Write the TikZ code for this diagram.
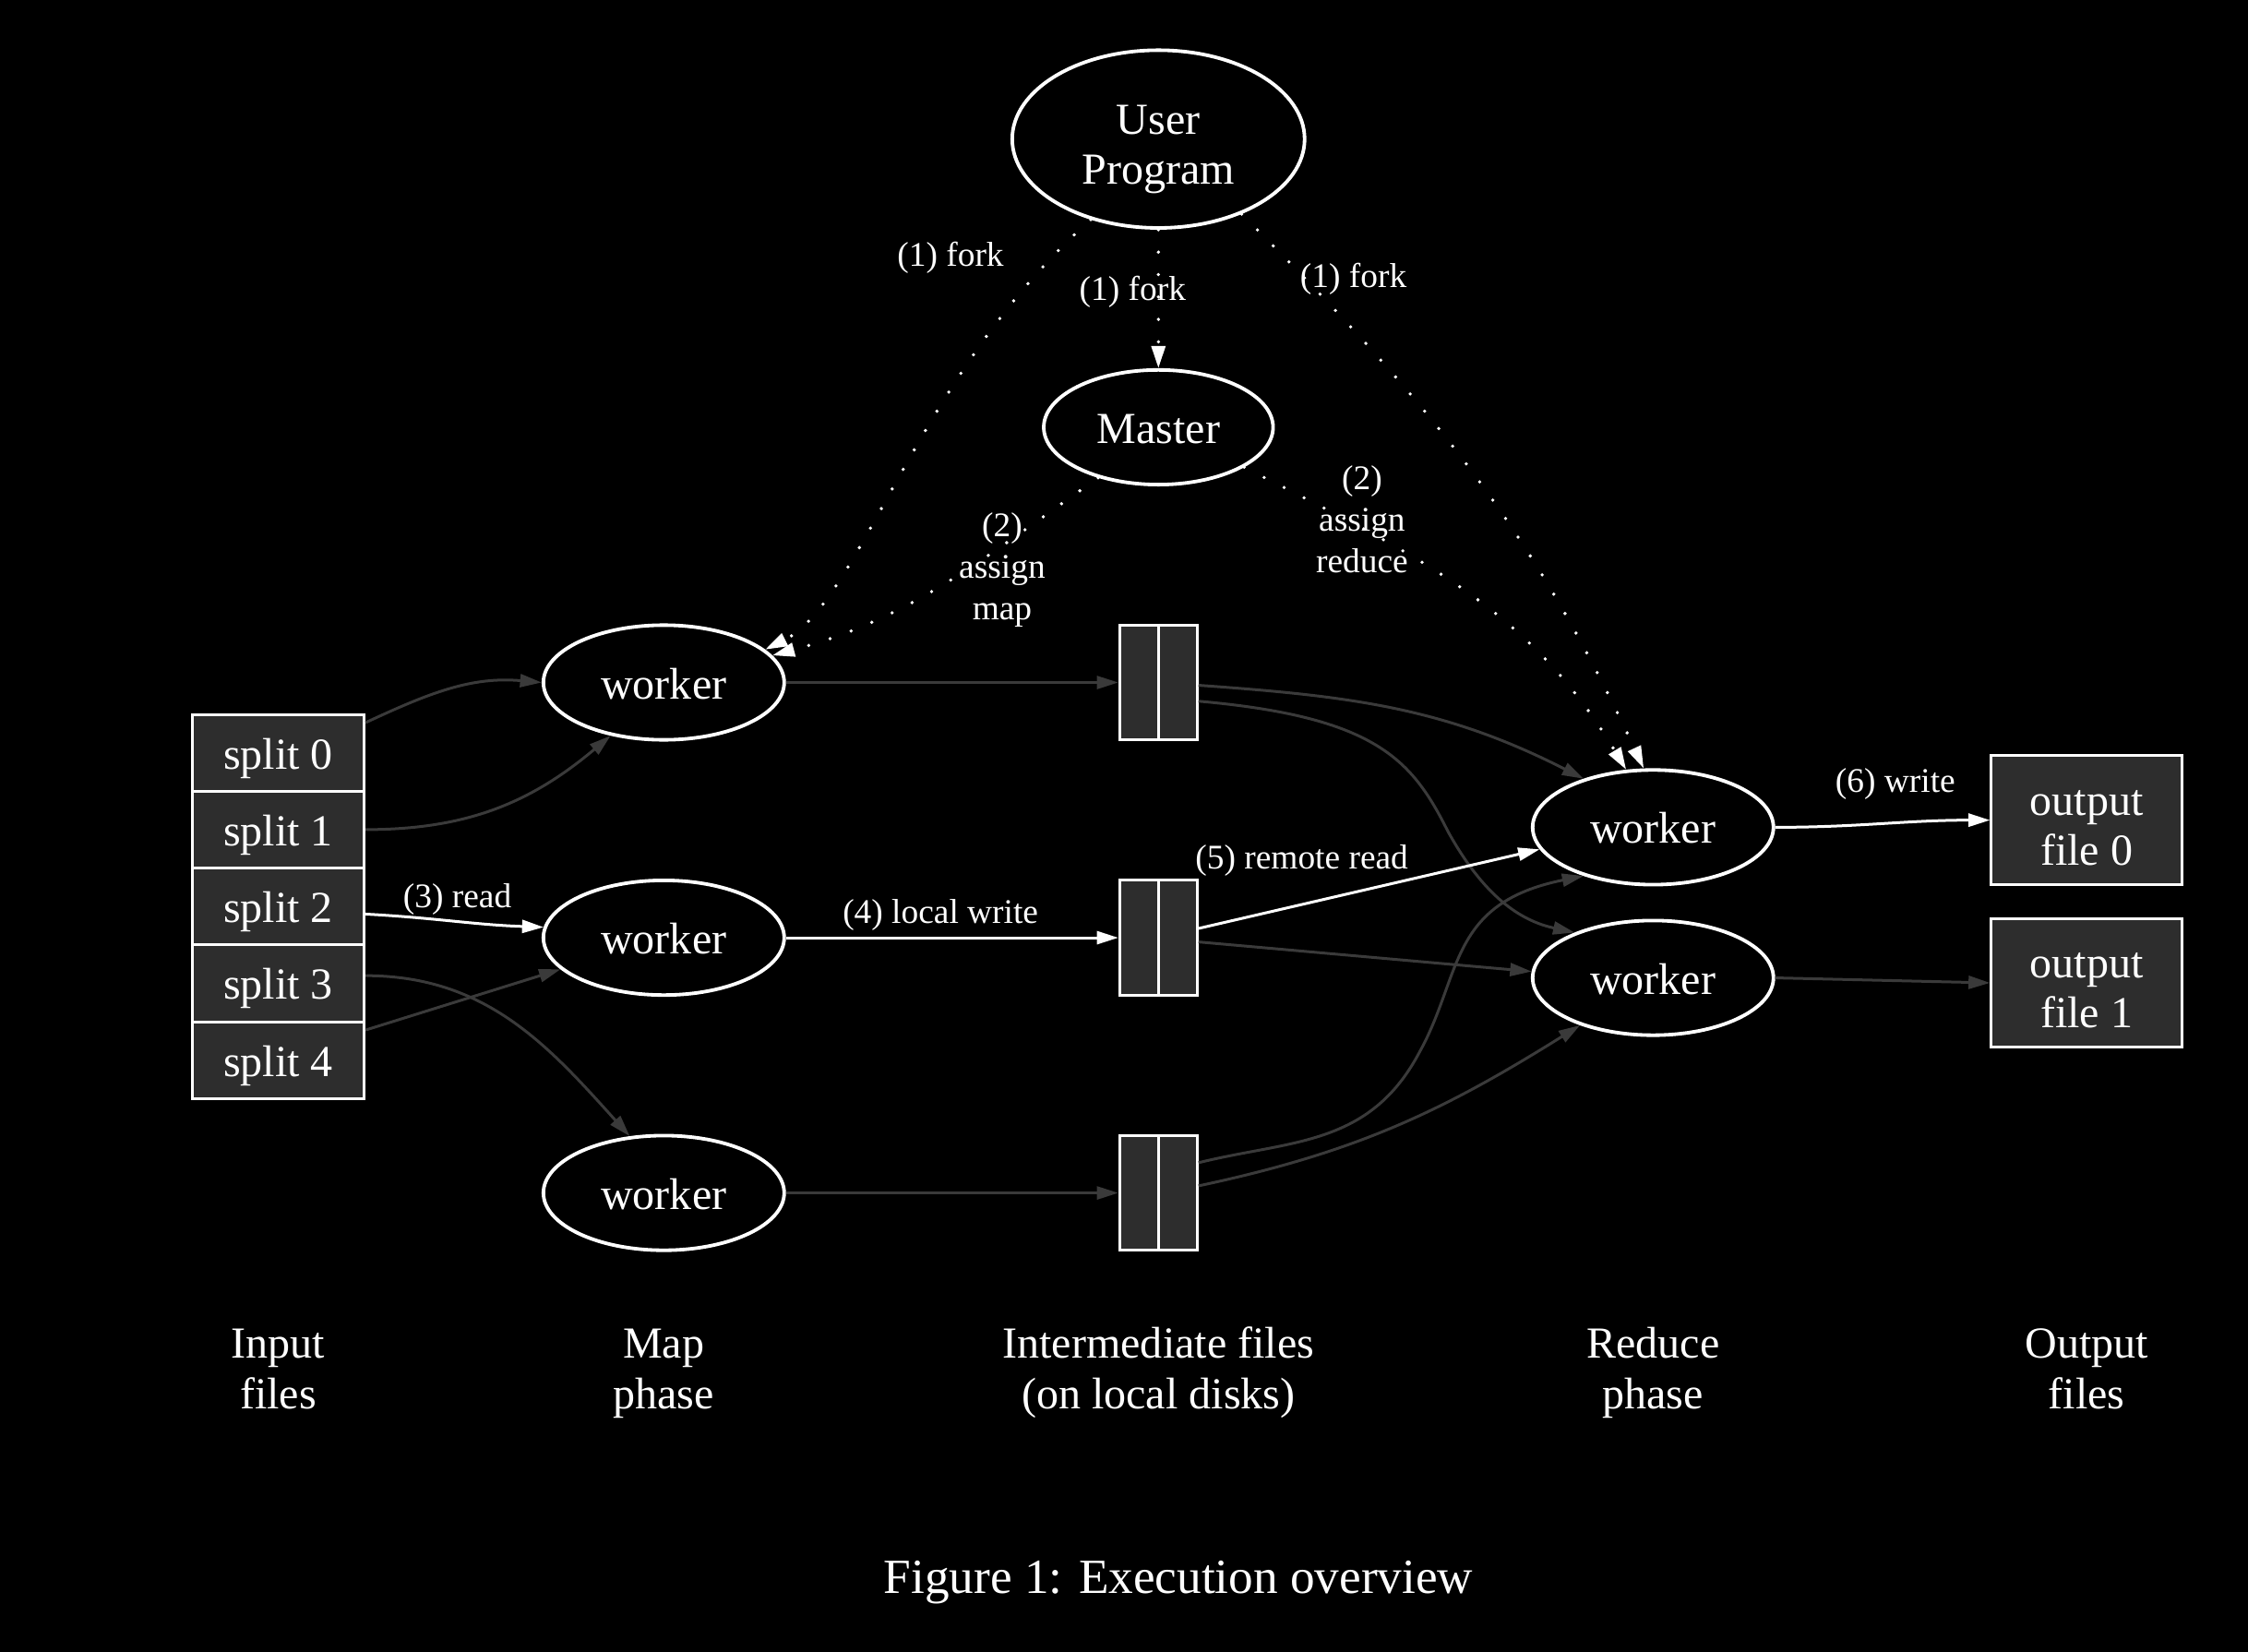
\documentclass[tikz,border=0pt]{standalone}
\usepackage{fontspec}
\setmainfont{Liberation Serif}
\usetikzlibrary{shapes.geometric,arrows.meta}
\definecolor{cellfill}{RGB}{45,45,45}
\definecolor{edgegray}{RGB}{58,58,58}
\begin{document}
\begin{tikzpicture}[x=0.02cm, y=0.02cm,
  every node/.style={text=white, font=\fontsize{17.6}{19.9}\selectfont},
  txt/.style={text height=12.85pt, text depth=0pt},
  twoline/.style={align=center, text height=35.7pt, text depth=0pt},
  oval/.style={ellipse, draw=white, line width=1.4pt, inner sep=0pt, txt},
  cell/.style={rectangle, draw=white, fill=cellfill, line width=1.1pt, inner sep=0pt, txt},
  lbl/.style={font=\fontsize{13.7}{16.5}\selectfont, align=center, inner sep=1pt},
  flow/.style={draw=edgegray, line width=1.1pt, -{Triangle[length=0.3cm,width=0.18cm]}},
  hot/.style={flow, draw=white},
  ctrl/.style={draw=white, line width=1.4pt, line cap=round, dash pattern=on 0pt off 8.9pt, -{Triangle[length=0.31cm,width=0.19cm]}}]
\fill[black] (0,0) rectangle (1568,-1152);
\pgfmathsetmacro\cellh{53.6}
\node[oval, twoline, minimum width=4.08cm, minimum height=2.48cm] (user) at (808,-97) {User\\Program};
\node[oval, minimum width=3.2cm, minimum height=1.6cm] (master) at (808,-298) {Master};
\foreach \n in {0,...,4} \node[cell, minimum width=2.4cm, minimum height=1.072cm] (s\n) at (194,-525-\cellh*\n) {split \n};
\foreach \n/\y in {1/476,2/654,3/832} {
  \node[oval, minimum width=3.36cm, minimum height=1.6cm] (w\n) at (463,-\y) {worker};
  \node[cell, minimum width=1.08cm, minimum height=1.6cm] (f\n) at (808,-\y) {};
  \draw[white, line width=1.1pt] (f\n.north) -- (f\n.south);
}
\foreach \n/\y in {0/577,1/682} \node[oval, minimum width=3.36cm, minimum height=1.6cm] (r\n) at (1153,-\y) {worker};
\foreach \n/\y in {0/572,1/685.5} \node[cell, twoline, minimum width=2.66cm, minimum height=1.8cm] (o\n) at (1455.5,-\y) {output\\file \n};
\node[twoline] (input) at (194,-951) {Input\\files};
\node[twoline] (map) at (463,-951) {Map\\phase};
\node[twoline] (inter) at (808,-951) {Intermediate files\\(on local disks)};
\node[twoline] (reduce) at (1153,-951) {Reduce\\phase};
\node[twoline] (output) at (1455.5,-951) {Output\\files};
\node[font=\fontsize{19.5}{23}\selectfont, text height=14.2pt, text depth=0pt] (caption) at (822,-1099) {Figure 1: Execution overview};
\draw[flow] (s0.19) to[out=25,in=175] (w1.west);
\draw[flow] (s1.east) to[out=0,in=220] (w1.225);
\draw[hot] (s2.-5) to[out=-3,in=178] (w2.175) node[lbl] at (319,-627.5) {(3) read};
\draw[flow] (s3.5) to[out=0,in=132] (w3.121);
\draw[flow] (s4.19) -- (w2.197);
\draw[flow] (w1.east) -- (f1.west);
\draw[hot] (w2.east) -- (f2.west) node[lbl] at (656,-638) {(4) local write};
\draw[flow] (w3.east) -- (f3.west);
\draw[flow] (f1.-4) to[out=-4,in=153] (r0.145);
\draw[flow] (f1.-25) .. controls (960,-500) and (985,-530) .. (1010,-580) .. controls (1035,-625) and (1060,-642) .. (r1.150);
\draw[hot] (f2.13) -- (r0.191) node[lbl] at (908,-600) {(5) remote read};
\draw[flow] (f2.-6) -- (r1.177);
\draw[flow] (f3.37) .. controls (900,-795) and (955,-800) .. (990,-734) .. controls (1020,-680) and (1010,-630) .. (r0.215);
\draw[flow] (f3.10) to[out=12,in=212] (r1.213);
\draw[hot] (r0.east) to[out=0,in=180] (o0.west) node[lbl] at (1322,-546.5) {(6) write};
\draw[flow] (r1.east) -- (o1.west);
\draw[ctrl] (user.230) .. controls (640,-260) and (600,-420) .. (w1.18) node[lbl] at (663,-179.5) {(1) fork};
\draw[ctrl] (user.south) -- (master.north) node[lbl] at (790,-203.5) {(1) fork};
\draw[ctrl] (user.318) to[out=-45,in=115] (r0.99) node[lbl] at (944,-194.5) {(1) fork};
\draw[ctrl] (master.220) to[out=215,in=15] (w1.14) node[lbl] at (699,-397.5) {(2)\\assign\\map};
\draw[ctrl] (master.335) to[out=-27,in=121] (r0.115) node[lbl] at (950,-362) {(2)\\assign\\reduce};
\end{tikzpicture}
\end{document}
